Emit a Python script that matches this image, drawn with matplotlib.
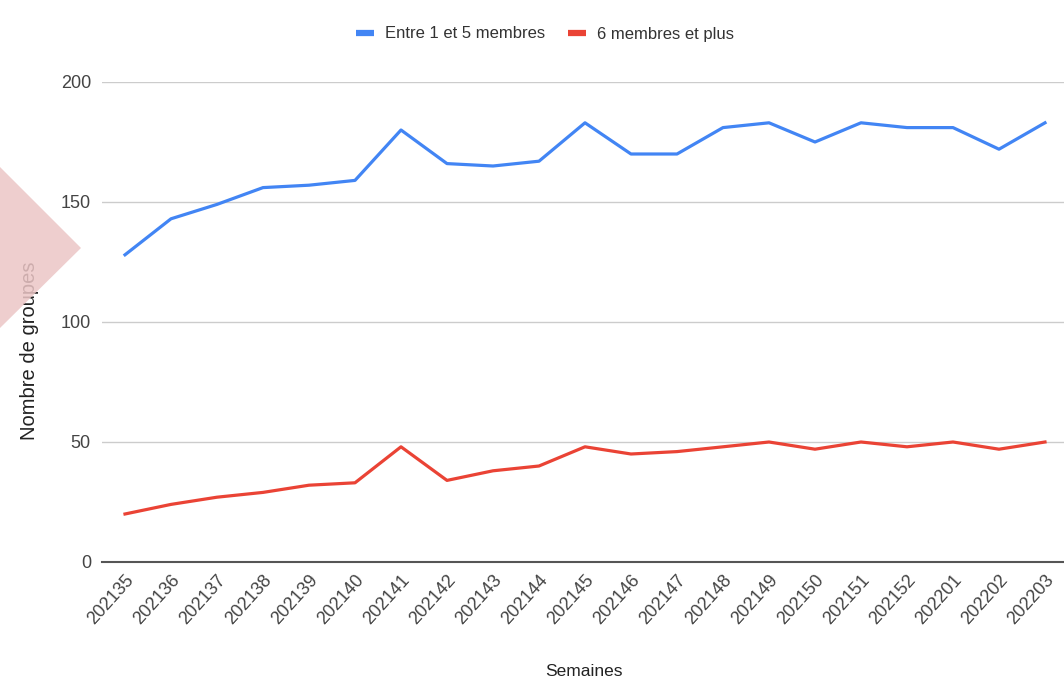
import matplotlib.pyplot as plt
from matplotlib.patches import Polygon
from matplotlib.lines import Line2D

# donnees
semaines = ['202135', '202136', '202137', '202138', '202139', '202140', '202141',
            '202142', '202143', '202144', '202145', '202146', '202147', '202148',
            '202149', '202150', '202151', '202152', '202201', '202202', '202203']
entre_1_et_5 = [128, 143, 149, 156, 157, 159, 180, 166, 165, 167, 183, 170, 170,
                181, 183, 175, 183, 181, 181, 172, 183]
six_et_plus = [20, 24, 27, 29, 32, 33, 48, 34, 38, 40, 48, 45, 46, 48, 50, 47,
               50, 48, 50, 47, 50]
graduations_y = [0, 50, 100, 150, 200]

BLEU = '#4285F4'
ROUGE = '#EA4335'
plt.rcParams['font.family'] = ['Liberation Sans', 'DejaVu Sans']

W, H = 1064, 693
fig = plt.figure(figsize=(W / 100, H / 100), dpi=100)
ax = fig.add_axes([102 / W, (H - 562) / H, 966 / W, 480 / H])

x = list(range(len(semaines)))
ax.plot(x, entre_1_et_5, color=BLEU, lw=2.3, label='Entre 1 et 5 membres', zorder=3)
ax.plot(x, six_et_plus, color=ROUGE, lw=2.3, label='6 membres et plus', zorder=3)

ax.set_xlim(-0.5, len(semaines) - 0.5)
ax.set_ylim(0, 200)
ax.set_yticks(graduations_y)
ax.set_yticklabels([str(v) for v in graduations_y])
ax.set_xticks(x)
ax.set_xticklabels(semaines, rotation=48, ha='right', va='top', rotation_mode='anchor')

ax.grid(axis='y', color='#cccccc', lw=1)
ax.set_axisbelow(True)
for s in ['top', 'right', 'left']:
    ax.spines[s].set_visible(False)
ax.spines['bottom'].set_color('#555555')
ax.spines['bottom'].set_linewidth(1.5)
ax.spines['bottom'].set_zorder(2)
ax.tick_params(axis='both', length=0, labelsize=13, colors='#444444')
ax.tick_params(axis='y', pad=8)
ax.tick_params(axis='x', pad=7)

fig.text(584 / W, 1 - 671 / H, 'Semaines', ha='center', va='center',
         fontsize=12.5, color='#222222')
fig.text(30 / W, 1 - 351 / H, 'Nombre de groupes', ha='center', va='center',
         rotation=90, fontsize=14.5, color='#222222')

handles = [Line2D([], [], color=BLEU, lw=4.5, solid_capstyle='butt'),
           Line2D([], [], color=ROUGE, lw=4.5, solid_capstyle='butt')]
fig.legend(handles, ['Entre 1 et 5 membres', '6 membres et plus'],
           loc='center', bbox_to_anchor=(545 / W, 1 - 34 / H), ncol=2,
           frameon=False, fontsize=12, handlelength=1.08, handletextpad=0.66,
           columnspacing=1.38, labelcolor='#333333')

# triangle rose en surimpression a gauche
tri = Polygon([(0, 1 - 167 / H), (81 / W, 1 - 248 / H), (0, 1 - 328 / H)],
              closed=True, transform=fig.transFigure, facecolor='#ecc6c6',
              edgecolor='none', alpha=0.85, zorder=10)
fig.patches.append(tri)

fig.savefig('out.png', dpi=100)
